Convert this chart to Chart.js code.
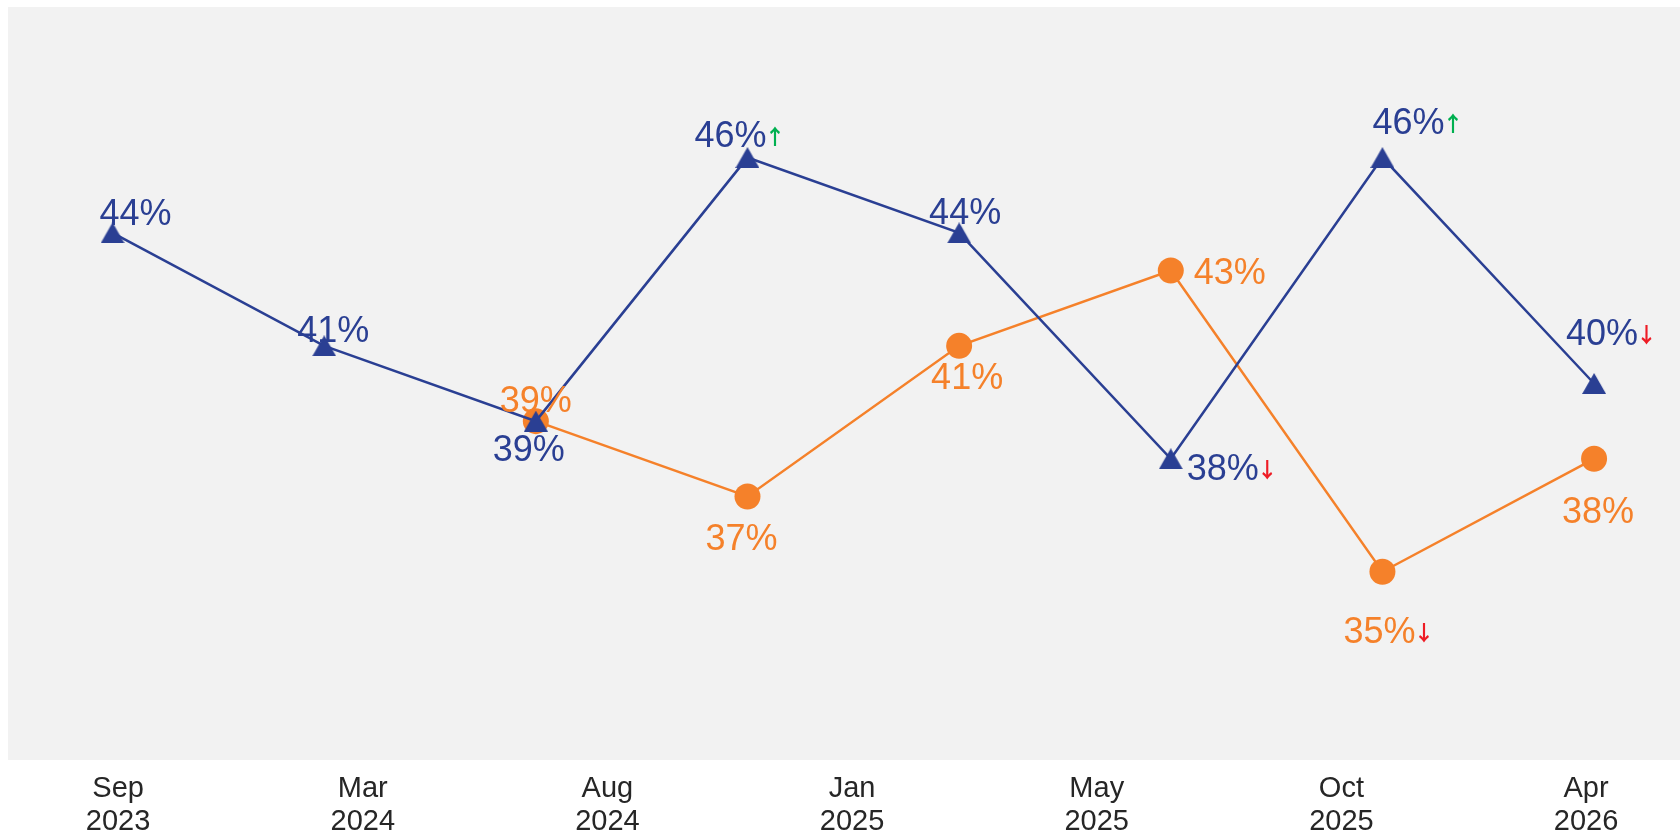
<!DOCTYPE html>
<html>
<head>
<meta charset="utf-8">
<script src="https://cdn.jsdelivr.net/npm/chart.js@4.4.1/dist/chart.umd.min.js"></script>
<style>
  html, body { margin: 0; padding: 0; background: #fff; }
  #wrap { width: 1680px; height: 836px; }
</style>
</head>
<body>
<div id="wrap"><canvas id="chart"></canvas></div>
<script>
// x axis tick labels (shown on their own evenly spaced axis)
const tickLabels = [
  ["Sep", "2023"], ["Mar", "2024"], ["Aug", "2024"], ["Jan", "2025"],
  ["May", "2025"], ["Oct", "2025"], ["Apr", "2026"]
];

// series values, in percent
const blueValues = [44, 41, 39, 46, 44, 38, 46, 40];
const orangeValues = [null, null, 39, 37, 41, 43, 35, 38];

// trend arrows shown after a label
const blueTrend = [null, null, null, "up", null, "down", "up", "down"];
const orangeTrend = [null, null, null, null, null, null, "down", null];

const BLUE = "#2A3F93";
const ORANGE = "#F5812A";
const UP = "#00B050";
const DOWN = "#EE1C25";
const FONT = "'Liberation Sans', Arial, sans-serif";

// label placement: [dx of text centre, dy of baseline] from the point
const blueLabelPos = [[23, -8], [9, -4], [-7, 40], [-17, -11], [6, -9], [52, 21], [26, -24], [8, -39]];
const orangeLabelPos = [null, null, [0, -9], [-6, 54], [8, 43], [59, 13], [-3, 71], [4, 64]];

const toPoints = (vals) => vals.map((v, i) => ({ x: i, y: v }));

// triangle marker centred on its bounding box
function triangleMarker(color) {
  const c = document.createElement("canvas");
  c.width = 24;
  c.height = 21;
  const g = c.getContext("2d");
  g.fillStyle = color;
  g.beginPath();
  g.moveTo(12, 0);
  g.lineTo(24, 21);
  g.lineTo(0, 21);
  g.closePath();
  g.fill();
  return c;
}

const plotBackground = {
  id: "plotBackground",
  beforeDraw(chart) {
    const { ctx, chartArea: a } = chart;
    ctx.save();
    ctx.fillStyle = "#F2F2F2";
    ctx.fillRect(a.left, a.top, a.right - a.left, a.bottom - a.top);
    ctx.restore();
  },
};

const pointLabels = {
  id: "pointLabels",
  afterDatasetsDraw(chart) {
    const ctx = chart.ctx;
    ctx.save();
    ctx.textBaseline = "alphabetic";
    chart.data.datasets.forEach((ds, di) => {
      const meta = chart.getDatasetMeta(di);
      meta.data.forEach((pt, i) => {
        const v = ds.data[i].y;
        if (v == null) return;
        const [dx, dy] = ds.labelPos[i];
        const text = v + "%";
        ctx.font = "36px " + FONT;
        const w = ctx.measureText(text).width;
        const left = pt.x + dx - w / 2;
        const base = pt.y + dy;
        ctx.fillStyle = ds.borderColor;
        ctx.textAlign = "left";
        ctx.fillText(text, left, base);
        const trend = ds.trend[i];
        if (trend) {
          ctx.font = "bold 21px 'Noto Sans CJK JP', sans-serif";
          ctx.fillStyle = trend === "up" ? UP : DOWN;
          ctx.fillText(trend === "up" ? "↑" : "↓", left + w - 2, base - 3);
        }
      });
    });
    ctx.restore();
  },
};

new Chart(document.getElementById("chart"), {
  type: "line",
  data: {
    datasets: [
      {
        label: "Series 1",
        data: toPoints(blueValues),
        trend: blueTrend,
        labelPos: blueLabelPos,
        borderColor: BLUE,
        backgroundColor: BLUE,
        borderWidth: 2.5,
        pointStyle: triangleMarker(BLUE),
        tension: 0,
      },
      {
        label: "Series 2",
        data: toPoints(orangeValues),
        trend: orangeTrend,
        labelPos: orangeLabelPos,
        borderColor: ORANGE,
        backgroundColor: ORANGE,
        borderWidth: 2.5,
        pointStyle: "circle",
        pointRadius: 13,
        pointBorderWidth: 0,
        tension: 0,
      },
    ],
  },
  options: {
    responsive: true,
    maintainAspectRatio: false,
    animation: false,
    layout: { autoPadding: false, padding: { left: 8, top: 7, right: 0, bottom: 0 } },
    plugins: { legend: { display: false }, tooltip: { enabled: false } },
    scales: {
      x: { type: "linear", display: false, min: -0.494, max: 7.406 },
      x2: {
        type: "linear",
        position: "bottom",
        min: -0.45,
        max: 6.384,
        grid: { display: false },
        border: { display: false },
        afterBuildTicks: (s) => {
          s.ticks = tickLabels.map((_, i) => ({ value: i }));
        },
        afterFit: (s) => {
          s.height = 76;
        },
        ticks: {
          autoSkip: false,
          maxRotation: 0,
          padding: 4,
          color: "#262626",
          font: { family: FONT, size: 29, lineHeight: 1.16 },
          callback: (v) => tickLabels[v],
        },
      },
      y: { display: false, min: 30, max: 50 },
    },
  },
  plugins: [plotBackground, pointLabels],
});
</script>
</body>
</html>
